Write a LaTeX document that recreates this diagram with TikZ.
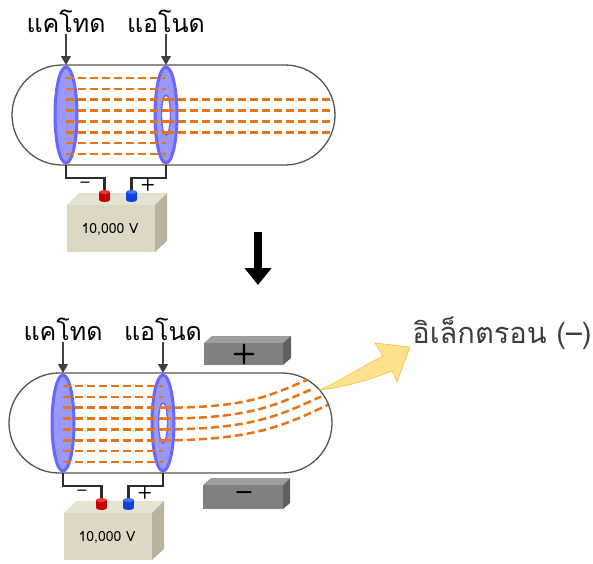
\documentclass[tikz,border=0pt]{standalone}
\usepackage{fontspec}
\usepackage{tikz}
\usetikzlibrary{arrows.meta}
\newfontfamily\thaifont[Script=Thai]{Loma}
\definecolor{tubegray}{RGB}{85,85,85}
\definecolor{electrodefill}{RGB}{152,152,255}
\definecolor{electrodeedge}{RGB}{104,104,255}
\definecolor{beamorange}{RGB}{232,115,20}
\definecolor{wiregray}{RGB}{45,45,45}
\definecolor{pointergray}{RGB}{64,64,64}
\definecolor{batteryfront}{RGB}{221,216,196}
\definecolor{batterytop}{RGB}{230,226,210}
\definecolor{batteryside}{RGB}{184,179,158}
\definecolor{termred}{RGB}{200,0,0}
\definecolor{termredtop}{RGB}{230,60,60}
\definecolor{termblue}{RGB}{16,64,224}
\definecolor{termbluetop}{RGB}{70,110,240}
\definecolor{platefront}{RGB}{128,128,128}
\definecolor{platetop}{RGB}{158,158,158}
\definecolor{plateside}{RGB}{96,96,96}
\definecolor{glowyellow}{RGB}{255,224,140}
\definecolor{glowedge}{RGB}{245,192,64}
\definecolor{labelgray}{RGB}{60,60,60}
\tikzset{
  >=Latex,
  tube/.style={draw=tubegray,line width=1.3pt,rounded corners=50pt},
  electrode/.style={fill=electrodefill,draw=electrodeedge,line width=3pt},
  beam/.style={draw=beamorange,line width=2.5pt,dash pattern=on 8pt off 4pt},
  wire/.style={draw=wiregray,line width=2.2pt},
  pointer/.style={-{Triangle[width=10pt,length=9pt]},draw=pointergray,line width=1.3pt},
  thailabel/.style={font=\thaifont\fontsize{25}{28}\selectfont,inner sep=1pt},
  sign/.style={font=\sffamily\bfseries\fontsize{17}{17}\selectfont,inner sep=0pt},
  voltage/.style={font=\thaifont\fontsize{14}{16}\selectfont},
  platesign/.style={font=\sffamily\bfseries\fontsize{28}{28}\selectfont,inner sep=0pt}
}
% small cylindrical battery terminal: x centre, body colour, cap colour
\newcommand{\terminal}[3]{%
  \fill[#2] (#1-5.5,192) rectangle (#1+5.5,200);
  \fill[#2] (#1,200) ellipse [x radius=5.5, y radius=2];
  \fill[#3] (#1,192) ellipse [x radius=5.5, y radius=2];
}
% tube, electrodes, labels and supply: x shift, y shift, name prefix
\newcommand{\crtunit}[3]{%
  \begin{scope}[shift={(#1,#2)}]
    % glass tube
    \draw[tube] (12,65) rectangle (335,165);
    % cathode and ring anode
    \draw[electrode] (66,115) ellipse [x radius=11, y radius=48];
    \draw[electrode] (166,115) ellipse [x radius=11, y radius=48];
    \draw[fill=white,draw=electrodeedge,line width=1.4pt]
      (166,115) ellipse [x radius=4.5, y radius=20];
    % rays between the electrodes
    \foreach \k in {0,...,7} {
      \draw[beam] (66,78+10.85*\k) -- (166,78+10.85*\k);
    }
    % electrode labels
    \node[thailabel] (#3cathode) at (66,21) {แคโทด};
    \node[thailabel] (#3anode) at (166,21) {แอโนด};
    \coordinate (#3cathodetip) at (66,65);
    \coordinate (#3anodetip) at (166,65);
    \draw[pointer] (#3cathode.south) -- (#3cathodetip);
    \draw[pointer] (#3anode.south) -- (#3anodetip);
    % supply wiring
    \draw[wire] (66,165) -- (66,178) -- (104.5,178) -- (104.5,193);
    \draw[wire] (166,165) -- (166,178) -- (131.5,178) -- (131.5,193);
    \node[sign] (#3minus) at (85,185) {–};
    \node[sign] (#3plus) at (148,185) {+};
    % battery box
    \fill[batteryfront] (67,205) rectangle (155,252);
    \fill[batterytop] (67,205) -- (79,193) -- (167,193) -- (155,205) -- cycle;
    \fill[batteryside] (155,205) -- (167,193) -- (167,241) -- (155,252) -- cycle;
    \terminal{104.5}{termred}{termredtop}
    \terminal{131.5}{termblue}{termbluetop}
    \node[voltage] (#3volt) at (110,229) {10,000 V};
  \end{scope}
}

\begin{document}
\begin{tikzpicture}[x=1pt,y=-1pt]
  \useasboundingbox (0,0) rectangle (593,563);

  % Straight beam
  \crtunit{0}{0}{up}
  \foreach \k in {2,...,5} {
    \draw[beam] (166,78+10.85*\k) -- (332,78+10.85*\k);
  }

  % Step arrow
  \coordinate (stepfrom) at (258,232);
  \coordinate (stepto) at (258,285);
  \draw[line width=8pt,-{Triangle[width=26pt,length=17pt]}] (stepfrom) -- (stepto);

  % Deflected beam
  \crtunit{-3}{308}{down}
  \begin{scope}[shift={(-3,308)}]
    \foreach \i in {0,...,3} {
      \draw[beam] (166,99.7+10.85*\i)
        .. controls (253+3.3*\i,99.7+10.85*\i) and (273+6.7*\i,87+9*\i)
        .. (310+7*\i,72+8.3*\i);
    }
  \end{scope}

  % Deflection plates
  \fill[platefront] (204,343) rectangle (283,365);
  \fill[platetop] (204,343) -- (212,336) -- (291,336) -- (283,343) -- cycle;
  \fill[plateside] (283,343) -- (291,336) -- (291,358) -- (283,365) -- cycle;
  \node[platesign] (plus) at (244,354) {+};
  \fill[platefront] (203,485) rectangle (283,509);
  \fill[platetop] (203,485) -- (211,478) -- (290,478) -- (283,485) -- cycle;
  \fill[plateside] (283,485) -- (290,478) -- (290,503) -- (283,509) -- cycle;
  \node[platesign] (minus) at (244,496) {–};

  % Electron arrow
  \filldraw[fill=glowyellow,draw=glowedge,line width=0.6pt]
    (320,390) .. controls (345,378) and (365,365) .. (383,356)
    -- (375,343) -- (410,347) -- (397,382) -- (392,371)
    .. controls (370,380) and (345,387) .. (320,390) -- cycle;
  \node[font=\thaifont\fontsize{29}{32}\selectfont,text=labelgray] (electron)
    at (502,333) {อิเล็กตรอน (–)};
\end{tikzpicture}
\end{document}
